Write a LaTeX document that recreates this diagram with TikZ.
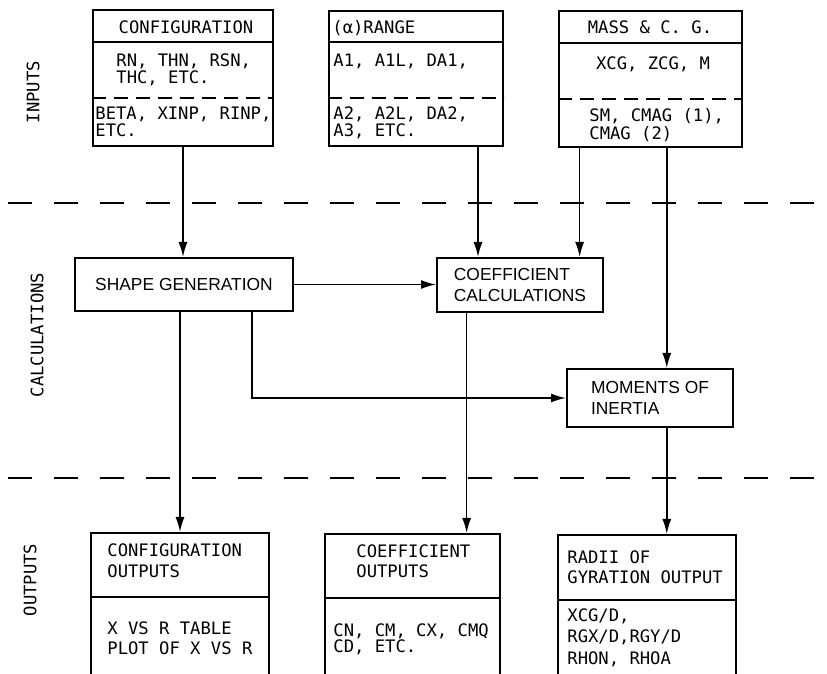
\documentclass[tikz,border=0pt]{standalone}
\usepackage{fontspec}
\newfontfamily\monof{DejaVu Sans Mono}
\newfontfamily\calcf{Liberation Sans}
\usetikzlibrary{calc, arrows.meta}

\begin{document}
\begin{tikzpicture}[x=0.5pt, y=-0.5pt,
  box/.style={draw, line width=1pt, inner sep=0pt},
  calcbox/.style={box, font=\calcf\fontsize{8.7}{10.5}\selectfont, align=left},
  txt/.style={anchor=base west, inner sep=0pt, align=left, font=\monof\fontsize{8.6}{8.5}\selectfont},
  side/.style={rotate=90, inner sep=0pt, font=\monof\fontsize{8.6}{10}\selectfont},
  arr/.style={line width=0.8pt, -{Latex[length=7.5pt, width=4.5pt]}},
  sep/.style={line width=0.8pt, dash pattern=on 12pt off 11pt},
  div/.style={line width=0.8pt, dash pattern=on 7pt off 4pt}]
\useasboundingbox (0,0) rectangle (827,674);

\node[side] (inlab) at (33,92) {INPUTS};
\node[side] (calclab) at (37,335) {CALCULATIONS};
\node[side] (outlab) at (30,580) {OUTPUTS};

\draw[sep] (8,203) -- (827,203);
\draw[sep] (8,478) -- (827,478);

% inputs
\node[box, minimum width=90pt, minimum height=68pt] (cfg) at (183,78) {};
\node[box, minimum width=87pt, minimum height=67.5pt] (rng) at (416,78.5) {};
\node[box, minimum width=91.5pt, minimum height=68pt] (mass) at (650.5,79) {};
\draw[line width=0.8pt] (cfg.west |- 0,42) -- (cfg.east |- 0,42);
\draw[line width=0.8pt] (rng.west |- 0,42) -- (rng.east |- 0,42);
\draw[line width=0.8pt] (mass.west |- 0,43) -- (mass.east |- 0,43);
\draw[div] (cfg.west |- 0,98) -- (cfg.east |- 0,98);
\draw[div] (rng.west |- 0,98) -- (rng.east |- 0,98);
\draw[div] (mass.west |- 0,99) -- (mass.east |- 0,99);

\node[txt, anchor=base] (cfgh) at (186,33.5) {CONFIGURATION};
\node[txt] (cfga) at (116,83.5) {RN, THN, RSN,\\THC, ETC.};
\node[txt] (cfgb) at (95,136.5) {BETA, XINP, RINP,\\ETC.};
\node[txt] (rngh) at (332,33.5) {(α)RANGE};
\node[txt] (rnga) at (333,66.5) {A1, A1L, DA1,};
\node[txt] (rngb) at (333,136.5) {A2, A2L, DA2,\\A3, ETC.};
\node[txt, anchor=base] (massh) at (650,33.5) {MASS \& C. G.};
\node[txt, anchor=base] (massa) at (653,69.5) {XCG, ZCG, M};
\node[txt, font=\monof\fontsize{8.6}{9}\selectfont] (massb) at (589,139.5) {SM, CMAG (1),\\CMAG (2)};

% calculations
\node[calcbox, minimum width=109pt, minimum height=26.5pt] (shape) at (184,284.5) {SHAPE GENERATION};
\node[calcbox, minimum width=83pt, minimum height=27pt] (coef) at (520,285) {COEFFICIENT\\CALCULATIONS};
\node[calcbox, minimum width=83pt, minimum height=29pt] (mom) at (650,398) {MOMENTS OF\\INERTIA};

% outputs
\node[box, minimum width=89pt, minimum height=78.5pt] (cfgout) at (180,611.5) {};
\node[box, minimum width=87.5pt, minimum height=78pt] (coefout) at (412.5,612) {};
\node[box, minimum width=89pt, minimum height=77.5pt] (radout) at (647,612.5) {};
\draw[line width=0.8pt] (cfgout.west |- 0,597) -- (cfgout.east |- 0,597);
\draw[line width=0.8pt] (coefout.west |- 0,598) -- (coefout.east |- 0,598);
\draw[line width=0.8pt] (radout.west |- 0,600) -- (radout.east |- 0,600);

\node[txt, font=\monof\fontsize{8.6}{10.5}\selectfont] (cfgouth) at (107,577.5) {CONFIGURATION\\OUTPUTS};
\node[txt, font=\monof\fontsize{8.6}{10}\selectfont] (cfgouta) at (107,654.5) {X VS R TABLE\\PLOT OF X VS R};
\node[txt, font=\monof\fontsize{8.6}{10}\selectfont] (coefouth) at (356,577.5) {COEFFICIENT\\OUTPUTS};
\node[txt, font=\monof\fontsize{8.6}{8}\selectfont] (coefouta) at (333,652.5) {CN, CM, CX, CMQ\\CD, ETC.};
\node[txt, font=\monof\fontsize{8.6}{10}\selectfont] (radouth) at (567,583.5) {RADII OF\\GYRATION OUTPUT};
\node[txt, font=\monof\fontsize{8.6}{10.75}\selectfont] (radouta) at (567,664.5) {XCG/D,\\RGX/D,RGY/D\\RHON, RHOA};

% connectors
\coordinate (c1) at ($(coef.north west)!.25!(coef.north east)$);
\coordinate (c2) at ($(coef.north west)!.855!(coef.north east)$);
\coordinate (m1) at ($(mom.north west)!.6!(mom.north east)$);
\coordinate (s2) at ($(shape.south west)!.81!(shape.south east)$);
\coordinate (k1) at ($(coefout.north west)!.806!(coefout.north east)$);

\draw[arr] (cfg.south) -- (cfg.south |- shape.north);
\draw[arr] (rng.south -| c1) -- (c1);
\draw[arr] (mass.south -| c2) -- (c2);
\draw[arr] (mass.south -| m1) -- (m1);
\draw[arr] (shape.east) -- (shape.east -| coef.west);
\draw[arr] (s2) |- (mom.west);
\draw[arr] (cfgout.north |- shape.south) -- (cfgout.north);
\draw[arr] (coef.south -| k1) -- (k1);
\draw[arr] (mom.south -| m1) -- (radout.north -| m1);
\end{tikzpicture}
\end{document}
